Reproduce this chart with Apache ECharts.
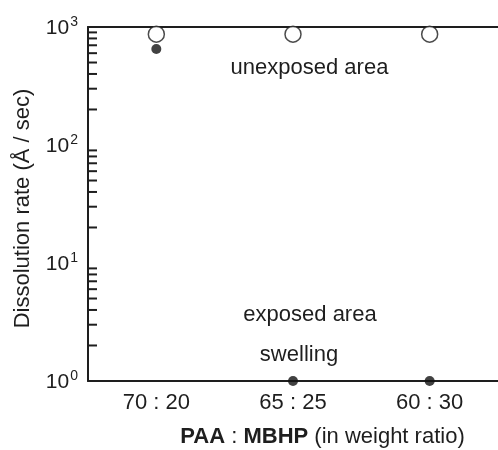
<!DOCTYPE html>
<html><head><meta charset="utf-8">
<script src="https://cdn.jsdelivr.net/npm/echarts@6/dist/echarts.min.js"></script>
<style>html,body{margin:0;padding:0;background:#fff}#c{width:498px;height:450px}</style>
</head><body><div id="c"></div>
<script>
const categories = ['70 : 20', '65 : 25', '60 : 30'];
const unexposedRate = [870, 870, 870];
const exposedRate = [650, 1, 1];
const yMin = 1, yMax = 1000;
const minorTickValues = [2,3,4,5,6,7,8,9,20,30,40,50,60,70,80,90,200,300,400,500,600,700,800,900];

const FONT = '"Liberation Sans", Arial, Helvetica, sans-serif';
const INK = '#1e1e1e';
const chart = echarts.init(document.getElementById('c'));
chart.setOption({
  animation: false,
  backgroundColor: '#fff',
  textStyle: {fontFamily: FONT, color: INK},
  grid: {left: 88, top: 27, width: 418.5, height: 354, containLabel: false},
  xAxis: [{
    type: 'category', data: categories, boundaryGap: true,
    axisLine: {lineStyle: {color: INK, width: 2}},
    axisTick: {inside: true, alignWithLabel: true, length: 9, lineStyle: {color: INK, width: 2}},
    axisLabel: {fontSize: 22, color: INK, margin: 11, fontFamily: FONT},
    splitLine: {show: false}
  }, {
    type: 'category', data: categories, position: 'top', boundaryGap: true,
    axisLine: {lineStyle: {color: INK, width: 2}},
    axisTick: {show: false}, axisLabel: {show: false}, splitLine: {show: false}
  }],
  yAxis: {
    type: 'log', logBase: 10, min: yMin, max: yMax,
    axisLine: {show: true, lineStyle: {color: INK, width: 2}},
    axisTick: {inside: true, length: 13, lineStyle: {color: INK, width: 2}},
    splitLine: {show: false},
    minorTick: {show: false},
    axisLabel: {
      margin: 10, color: INK,
      formatter: v => '{b|10}{s|' + Math.round(Math.log10(v)) + '}',
      rich: {
        b: {fontSize: 21, fontFamily: FONT, color: INK, verticalAlign: 'bottom'},
        s: {fontSize: 14, fontFamily: FONT, color: INK, verticalAlign: 'top', padding: [0,0,10,1]}
      }
    }
  },
  series: [{
    type: 'custom', name: 'minor ticks', data: minorTickValues.map(v => [0, v]),
    silent: true, clip: false,
    renderItem: (params, api) => {
      const y = api.coord([0, api.value(1)])[1];
      const x0 = params.coordSys.x;
      return {type: 'line', shape: {x1: x0, y1: y, x2: x0 + 9, y2: y},
              style: {stroke: INK, lineWidth: 2}};
    }
  }, {
    type: 'scatter', name: 'unexposed area', data: unexposedRate,
    symbol: 'circle', symbolSize: 16, clip: false,
    itemStyle: {color: '#fff', borderColor: INK, borderWidth: 1.5}
  }, {
    type: 'scatter', name: 'exposed area', data: exposedRate,
    symbol: 'circle', symbolSize: 10, clip: false, z: 5,
    itemStyle: {color: '#111'}
  }],
  graphic: [
    {type: 'text', x: 309.5, y: 68, style: {text: 'unexposed area', font: '22px ' + FONT, fill: INK, textAlign: 'center', textVerticalAlign: 'middle'}},
    {type: 'text', x: 310, y: 315, style: {text: 'exposed area', font: '22px ' + FONT, fill: INK, textAlign: 'center', textVerticalAlign: 'middle'}},
    {type: 'text', x: 299, y: 355, style: {text: 'swelling', font: '22px ' + FONT, fill: INK, textAlign: 'center', textVerticalAlign: 'middle'}},
    {type: 'text', x: 23, y: 208.5, rotation: Math.PI / 2,
     style: {text: 'Dissolution rate (Å / sec)', font: '22px ' + FONT, fill: INK, textAlign: 'center', textVerticalAlign: 'middle'}},
    {type: 'text', x: 322.5, y: 437,
     style: {text: '{b|PAA} : {b|MBHP} (in weight ratio)', fill: INK, textAlign: 'center', textVerticalAlign: 'middle',
       font: '22px ' + FONT,
       rich: {b: {fontWeight: 'bold', fontSize: 22, fontFamily: FONT, fill: INK}}}}
  ]
});
</script></body></html>
